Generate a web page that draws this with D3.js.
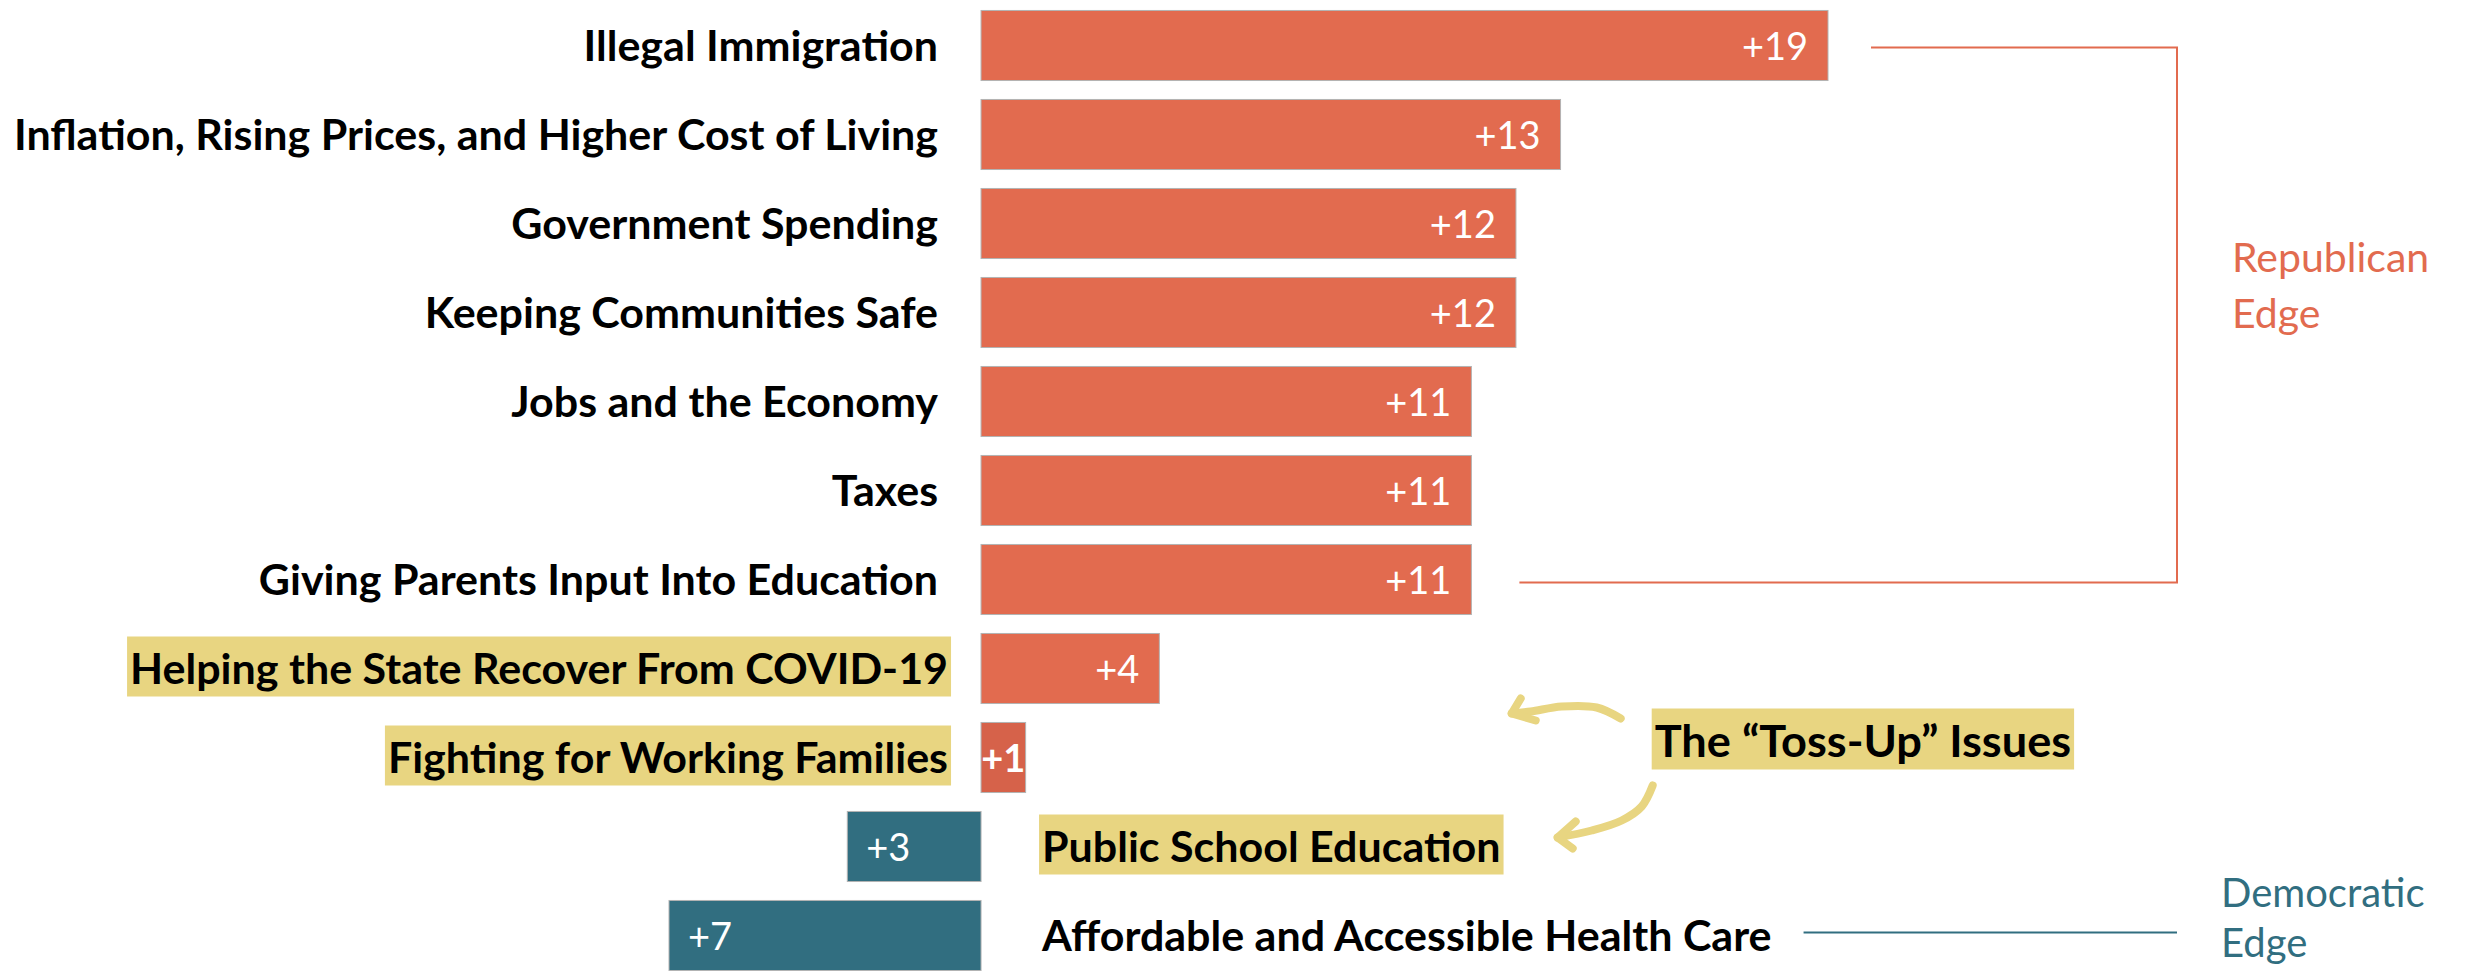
<!DOCTYPE html>
<html>
<head>
<meta charset="utf-8">
<script src="https://cdn.jsdelivr.net/npm/d3@7"></script>
<style>
  html, body { margin: 0; padding: 0; background: #ffffff; }
  svg { display: block; }
</style>
</head>
<body>
<svg id="chart" width="2468" height="971"></svg>
<script>
// Issues, top to bottom
const issues = [
  "Illegal Immigration",
  "Inflation, Rising Prices, and Higher Cost of Living",
  "Government Spending",
  "Keeping Communities Safe",
  "Jobs and the Economy",
  "Taxes",
  "Giving Parents Input Into Education",
  "Helping the State Recover From COVID-19",
  "Fighting for Working Families",
  "Public School Education",
  "Affordable and Accessible Health Care"
];
// Party advantage in points: positive = Republican edge, negative = Democratic edge
const margins = [19, 13, 12, 12, 11, 11, 11, 4, 1, -3, -7];
// Issues flagged as toss-ups
const tossUps = [
  "Helping the State Recover From COVID-19",
  "Fighting for Working Families",
  "Public School Education"
];
const domainTicks = [-7, 19];

const REP = "#e26b4f";
const DEM = "#316e80";
const HILITE = "#e8d581";
const FONT = "Lato, 'Open Sans', sans-serif";

const data = issues.map((name, i) => ({ name, margin: margins[i], toss: tossUps.includes(name) }));

const svg = d3.select("#chart");

const x = d3.scaleLinear().domain(domainTicks).range([669, 1828]);
const y = d3.scaleBand().domain(issues).range([1, 980]).paddingInner(0.213).paddingOuter(0.1065);
const cy = name => y(name) + y.bandwidth() / 2;
const x0 = x(0);

// Bars
svg.append("g").selectAll("rect").data(data).join("rect")
  .attr("x", d => Math.min(x0, x(d.margin)))
  .attr("y", d => y(d.name))
  .attr("width", d => Math.abs(x(d.margin) - x0))
  .attr("height", y.bandwidth())
  .attr("fill", d => d.margin > 0 ? (d.margin < 2 ? "#d6624a" : REP) : DEM)
  .attr("stroke", "#b3b3b3")
  .attr("stroke-width", 1);

// Value labels inside bars
svg.append("g").selectAll("text").data(data).join("text")
  .attr("x", d => {
    if (d.margin < 0) return x(d.margin) + 19;
    if (d.margin < 2) return (x0 + x(d.margin)) / 2;
    return x(d.margin) - 20;
  })
  .attr("y", d => cy(d.name) + 14)
  .attr("text-anchor", d => d.margin < 0 ? "start" : (d.margin < 2 ? "middle" : "end"))
  .attr("font-family", FONT)
  .attr("font-size", 38)
  .attr("font-weight", d => Math.abs(d.margin) < 2 ? 700 : 400)
  .attr("fill", "#ffffff")
  .text(d => "+" + Math.abs(d.margin));

// Category labels (left of Republican bars, right of Democratic bars)
const labelSize = 42;
const capHalf = 15;
const highlightLayer = svg.append("g");
const labels = svg.append("g").selectAll("text").data(data).join("text")
  .attr("font-family", FONT)
  .attr("font-size", labelSize)
  .attr("font-weight", 700)
  .attr("fill", "#000000")
  .attr("y", d => cy(d.name) + capHalf)
  .text(d => d.name);

// Fit the label column: longest label spans the left margin to the label edge
const widths = new Map();
labels.each(function(d) { widths.set(d.name, this.getComputedTextLength()); });
const longest = d3.max(data.filter(d => d.margin > 0), d => widths.get(d.name));
const squeeze = (x0 - 43 - 14) / longest;

labels.each(function(d) {
  const w = widths.get(d.name) * squeeze;
  const sel = d3.select(this)
    .attr("textLength", w)
    .attr("lengthAdjust", "spacingAndGlyphs");
  let left;
  if (d.margin > 0) {
    const right = d.toss ? x0 - 33 : x0 - 43;
    left = right - w;
  } else {
    left = x0 + 61;
  }
  sel.attr("x", left);
  d.labelLeft = left;
  d.labelRight = left + w;
  if (d.toss) {
    highlightLayer.append("rect")
      .attr("x", left - 3)
      .attr("y", cy(d.name) - 32)
      .attr("width", w + 6)
      .attr("height", 60)
      .attr("fill", HILITE);
  }
});

// Republican edge bracket
const rTop = cy(issues[0]) + 2;
const rBot = cy(issues[6]) + 3;
const bracketX = 2177;
svg.append("path")
  .attr("d", `M${x(margins[0]) + 43},${rTop} H${bracketX} V${rBot} H${x(margins[6]) + 48}`)
  .attr("fill", "none")
  .attr("stroke", REP)
  .attr("stroke-width", 2);

svg.append("text")
  .attr("font-family", FONT)
  .attr("font-size", 41)
  .attr("fill", REP)
  .selectAll("tspan").data(["Republican", "Edge"]).join("tspan")
  .attr("x", 2232)
  .attr("y", (d, i) => 272 + i * 56)
  .text(d => d);

// Democratic edge line
const healthRow = data[data.length - 1];
svg.append("line")
  .attr("x1", healthRow.labelRight + 32)
  .attr("x2", bracketX)
  .attr("y1", cy(healthRow.name) - 3)
  .attr("y2", cy(healthRow.name) - 3)
  .attr("stroke", DEM)
  .attr("stroke-width", 2);

svg.append("text")
  .attr("font-family", FONT)
  .attr("font-size", 40)
  .attr("fill", DEM)
  .selectAll("tspan").data(["Democratic", "Edge"]).join("tspan")
  .attr("x", 2221)
  .attr("y", (d, i) => 907 + i * 50)
  .text(d => d);

// "Toss-Up" callout
const tx = x(15) + 2;
const tyCenter = cy("Fighting for Working Families") - 16;
const tossBox = svg.append("rect").attr("fill", HILITE);
const tossText = svg.append("text")
  .attr("font-family", FONT)
  .attr("font-size", labelSize + 1)
  .attr("font-weight", 700)
  .attr("fill", "#000000")
  .attr("x", tx + 3)
  .attr("y", tyCenter + capHalf)
  .text("The \u201CToss-Up\u201D Issues");
const tw = tossText.node().getComputedTextLength() * 1.05;
tossText.attr("textLength", tw).attr("lengthAdjust", "spacingAndGlyphs");
tossBox.attr("x", tx).attr("y", tyCenter - 33).attr("width", tw + 6).attr("height", 61);
const ty = tyCenter - 33;

// Hand-drawn arrows pointing at the toss-up issues
const brush = d3.line().curve(d3.curveCatmullRom.alpha(0.5));
const arrows = [
  { body: [[tx - 31, ty + 10], [tx - 55, ty - 1], [tx - 90, ty - 2], [tx - 121, ty + 3], [tx - 140, ty + 5]],
    head: [[tx - 131, ty - 10], [tx - 140, ty + 5], [tx - 116, ty + 12]] },
  { body: [[tx + 1, ty + 77], [tx - 10, ty + 98], [tx - 30, ty + 112], [tx - 60, ty + 122], [tx - 94, ty + 129]],
    head: [[tx - 76, ty + 113], [tx - 94, ty + 129], [tx - 79, ty + 140]] }
];
const arrowLayer = svg.append("g")
  .attr("fill", "none")
  .attr("stroke", HILITE)
  .attr("stroke-width", 8)
  .attr("stroke-linecap", "round")
  .attr("stroke-linejoin", "round");
arrows.forEach(a => {
  arrowLayer.append("path").attr("d", brush(a.body));
  arrowLayer.append("path").attr("d", d3.line()(a.head));
});
</script>
</body>
</html>
